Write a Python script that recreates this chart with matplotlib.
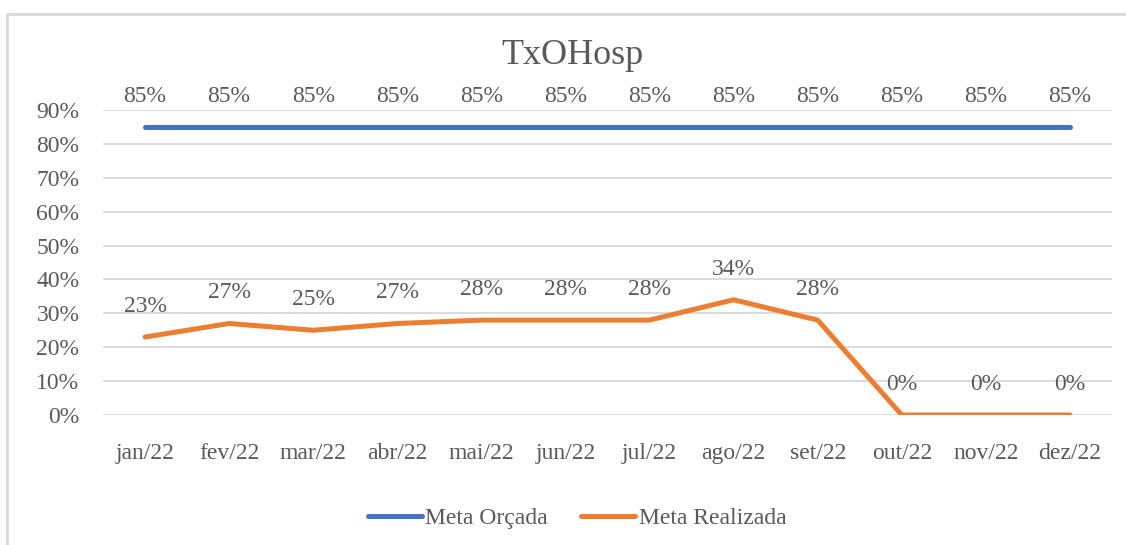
import matplotlib.pyplot as plt
from matplotlib.lines import Line2D
from matplotlib.ticker import PercentFormatter

# Dados
meses = ['jan/22', 'fev/22', 'mar/22', 'abr/22', 'mai/22', 'jun/22',
         'jul/22', 'ago/22', 'set/22', 'out/22', 'nov/22', 'dez/22']
meta_orcada = [0.85] * 12
meta_realizada = [0.23, 0.27, 0.25, 0.27, 0.28, 0.28, 0.28, 0.34, 0.28, 0.0, 0.0, 0.0]

plt.rcParams['font.family'] = ['Liberation Serif', 'DejaVu Serif']
cinza = '#595959'
azul = '#4472C4'
laranja = '#ED7D31'

fig = plt.figure(figsize=(11.26, 5.45), dpi=100)
ax = fig.add_axes([103 / 1126, 1 - 415 / 545, 1009 / 1126, 305 / 545])

x = range(len(meses))
ax.plot(x, meta_orcada, color=azul, lw=3.6, solid_capstyle='round', label='Meta Orçada')
ax.plot(x, meta_realizada, color=laranja, lw=3.6, solid_capstyle='round', label='Meta Realizada')

# Rótulos de dados
for serie in (meta_orcada, meta_realizada):
    for i, v in enumerate(serie):
        ax.annotate(f'{v:.0%}', (i, v), xytext=(0, 22), textcoords='offset points',
                    ha='center', va='center', fontsize=17, color=cinza)

ax.set_xlim(-0.5, len(meses) - 0.5)
ax.set_ylim(0, 0.9)
ax.set_yticks([i / 10 for i in range(10)])
ax.yaxis.set_major_formatter(PercentFormatter(1.0, decimals=0))
ax.set_xticks(list(x))
ax.set_xticklabels(meses)
ax.tick_params(axis='both', length=0, labelsize=17, labelcolor=cinza)
ax.tick_params(axis='x', pad=20)
ax.tick_params(axis='y', pad=17)
ax.grid(axis='y', color='#d9d9d9', lw=1.3)
ax.set_axisbelow(True)
for s in ax.spines.values():
    s.set_visible(False)

fig.text(572 / 1126, 1 - 56 / 545, 'TxOHosp', ha='center', va='center',
         fontsize=26, color=cinza)

fig.legend(loc='center', bbox_to_anchor=(577 / 1126, 1 - 518 / 545), ncol=2,
           frameon=False, fontsize=17, labelcolor=cinza, handlelength=2.3,
           handletextpad=0.15, columnspacing=1.4)

# Borda do gráfico
fig.add_artist(Line2D([7 / 1126, 7 / 1126, 1.0], [0, 1 - 14 / 545, 1 - 14 / 545],
                      transform=fig.transFigure, color='#d9d9d9', lw=2))

fig.savefig('out.png', dpi=100)
